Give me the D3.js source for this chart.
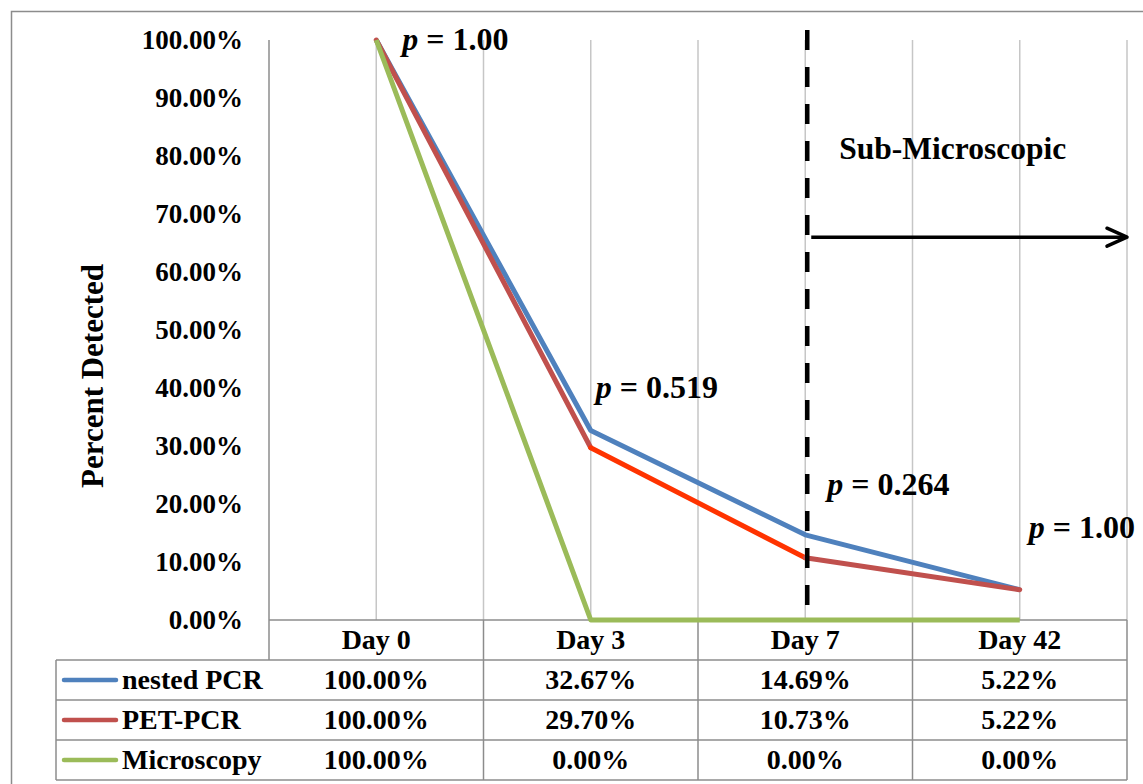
<!DOCTYPE html>
<html><head><meta charset="utf-8">
<script src="https://cdn.jsdelivr.net/npm/d3@7"></script>
<style>
html,body{margin:0;padding:0;background:#fff;}
svg{display:block;}
text{font-family:"Liberation Serif","Times New Roman",serif;font-weight:bold;fill:#000;}
</style></head>
<body>
<svg id="c" width="1143" height="784"></svg>
<script>
const categories = ["Day 0", "Day 3", "Day 7", "Day 42"];
const seriesNames = ["nested PCR", "PET-PCR", "Microscopy"];
const nestedPCR = [1.0, 0.3267, 0.1469, 0.0522];
const petPCR = [1.0, 0.2970, 0.1073, 0.0522];
const microscopy = [1.0, 0.0, 0.0, 0.0];
const yTicks = [0, 0.1, 0.2, 0.3, 0.4, 0.5, 0.6, 0.7, 0.8, 0.9, 1.0];
const pLabels = [
  {cat: "Day 0", val: 1.0, text: " = 1.00"},
  {cat: "Day 3", val: 0.40, text: " = 0.519"},
  {cat: "Day 7", val: 0.233, text: " = 0.264"},
  {cat: "Day 42", val: 0.158, text: " = 1.00"}
];

const colors = {"nested PCR": "#4F81BD", "PET-PCR": "#C0504D", "Microscopy": "#9BBB59"};
const segColorsPET = ["#C0504D", "#FF3300", "#C0504D"];

const svg = d3.select("#c");
const L = 269, R = 1127, T = 40, B = 620;
const rowH = 40;
const legendLeft = 56;

const x = d3.scaleBand().domain(categories).range([L, R]).paddingInner(0).paddingOuter(0);
const bw = x.bandwidth();
const cx = d => x(d) + bw / 2;
const y = d3.scaleLinear().domain([0, 1]).range([B, T]);

// outer border
svg.append("rect").attr("x", 11.5).attr("y", 11.5).attr("width", 1150).attr("height", 800)
  .attr("fill", "none").attr("stroke", "#8C8C8C").attr("stroke-width", 1.5);

// vertical gridlines (band edges and centers)
const gridXs = [];
categories.forEach(c => { gridXs.push(x(c) + bw / 2); gridXs.push(x(c) + bw); });
svg.append("g").selectAll("line").data(gridXs).join("line")
  .attr("x1", d => d).attr("x2", d => d).attr("y1", T).attr("y2", B)
  .attr("stroke", "#C6C6C6").attr("stroke-width", 1.5);

// y axis
const yAxis = d3.axisLeft(y).tickValues(yTicks).tickFormat(d3.format(".2%")).tickSize(0).tickPadding(26);
const ga = svg.append("g").attr("transform", `translate(${L},0)`).call(yAxis);
ga.select(".domain").remove();
ga.selectAll("text").attr("font-size", 27).attr("font-family", null).attr("dy", "0.32em")
  .style("font-family", '"Liberation Serif","Times New Roman",serif').style("font-weight", "bold");
svg.append("line").attr("x1", L).attr("x2", L).attr("y1", T).attr("y2", B + rowH)
  .attr("stroke", "#8C8C8C").attr("stroke-width", 1.5);

// y axis title
svg.append("text").attr("transform", `translate(103,${(T + B) / 2 + 46}) rotate(-90)`)
  .attr("text-anchor", "middle").attr("font-size", 31).text("Percent Detected");

// table grid
const tbl = svg.append("g").attr("stroke", "#8C8C8C").attr("stroke-width", 1.5);
tbl.append("line").attr("x1", L).attr("x2", R).attr("y1", B).attr("y2", B);
for (let i = 1; i <= seriesNames.length + 1; i++) {
  tbl.append("line").attr("x1", legendLeft).attr("x2", R).attr("y1", B + i * rowH).attr("y2", B + i * rowH);
}
tbl.append("line").attr("x1", legendLeft).attr("x2", legendLeft).attr("y1", B + rowH).attr("y2", B + (seriesNames.length + 1) * rowH);
categories.forEach(c => {
  tbl.append("line").attr("x1", x(c) + bw).attr("x2", x(c) + bw).attr("y1", B).attr("y2", B + (seriesNames.length + 1) * rowH);
});

// header labels
svg.append("g").selectAll("text").data(categories).join("text")
  .attr("x", d => cx(d)).attr("y", B + rowH / 2 + 9).attr("text-anchor", "middle")
  .attr("font-size", 28).text(d => d);

// rows
const seriesData = [nestedPCR, petPCR, microscopy];
const fmt = d3.format(".2%");
seriesNames.forEach((name, i) => {
  const yy = B + (i + 1) * rowH + rowH / 2;
  svg.append("line").attr("x1", 64).attr("x2", 116).attr("y1", yy).attr("y2", yy)
    .attr("stroke", colors[name]).attr("stroke-width", 4.5).attr("stroke-linecap", "round");
  svg.append("text").attr("x", 122).attr("y", yy + 9).attr("font-size", 28).text(name);
  svg.append("g").selectAll("text").data(seriesData[i]).join("text")
    .attr("x", (d, j) => cx(categories[j])).attr("y", yy + 9).attr("text-anchor", "middle")
    .attr("font-size", 28).text(d => fmt(d));
});

// lines
function segments(vals) {
  const s = [];
  for (let j = 0; j < vals.length - 1; j++) s.push([[cx(categories[j]), y(vals[j])], [cx(categories[j + 1]), y(vals[j + 1])]]);
  return s;
}
const lineGen = d3.line();
svg.append("path").attr("d", lineGen(nestedPCR.map((v, j) => [cx(categories[j]), y(v)])))
  .attr("fill", "none").attr("stroke", colors["nested PCR"]).attr("stroke-width", 5).attr("stroke-linejoin", "round");
segments(petPCR).forEach((s, j) => {
  svg.append("path").attr("d", lineGen(s)).attr("fill", "none").attr("stroke", segColorsPET[j])
    .attr("stroke-width", 5).attr("stroke-linecap", "round");
});
svg.append("path").attr("d", lineGen(microscopy.map((v, j) => [cx(categories[j]), y(v)])))
  .attr("fill", "none").attr("stroke", colors["Microscopy"]).attr("stroke-width", 5).attr("stroke-linejoin", "round");

// dashed vertical line at Day 7
const dx = cx("Day 7") + 2;
svg.append("line").attr("x1", dx).attr("x2", dx).attr("y1", T - 10).attr("y2", B)
  .attr("stroke", "#000").attr("stroke-width", 4.5).attr("stroke-dasharray", "20 17");

// arrow
const ay = y(0.66);
svg.append("line").attr("x1", dx + 4).attr("x2", R).attr("y1", ay).attr("y2", ay)
  .attr("stroke", "#000").attr("stroke-width", 3.5);
svg.append("path").attr("d", `M${R - 20},${ay - 9} L${R},${ay} L${R - 20},${ay + 9}`)
  .attr("fill", "none").attr("stroke", "#000").attr("stroke-width", 3.5).attr("stroke-linecap", "round").attr("stroke-linejoin", "round");

svg.append("text").attr("x", dx + 32).attr("y", y(0.795)).attr("font-size", 31.5).text("Sub-Microscopic");

// p labels
const pOffsets = [26, 5, 22, 9];
pLabels.forEach((p, i) => {
  const t = svg.append("text").attr("x", cx(p.cat) + pOffsets[i]).attr("y", y(p.val) + 10).attr("font-size", 32);
  t.append("tspan").attr("font-style", "italic").text("p");
  t.append("tspan").text(p.text);
});
</script>
</body></html>
